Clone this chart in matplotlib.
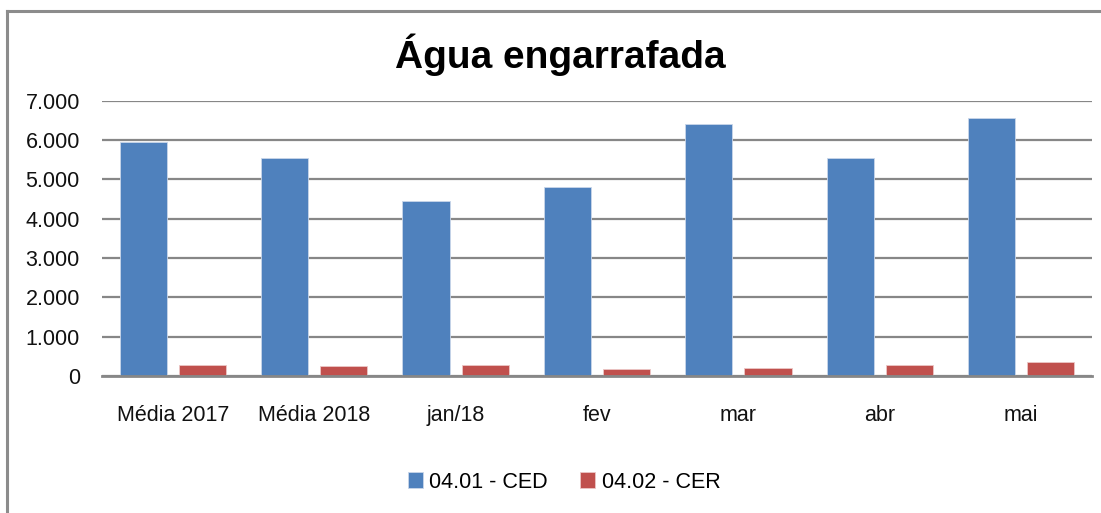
import matplotlib
matplotlib.use("Agg")
import matplotlib.pyplot as plt
from matplotlib.ticker import FuncFormatter, MultipleLocator
from matplotlib.lines import Line2D
import numpy as np

categories = ["Média 2017", "Média 2018", "jan/18", "fev", "mar", "abr", "mai"]
ced = [5950, 5550, 4440, 4810, 6400, 5550, 6570]
cer = [280, 255, 280, 180, 195, 270, 350]
series_names = ["04.01 - CED", "04.02 - CER"]
title = "Água engarrafada"

BLUE = "#4F81BD"
RED = "#C0504D"
GRID = "#878787"

plt.rcParams['font.family'] = ['Liberation Sans', 'DejaVu Sans']

fig = plt.figure(figsize=(11.01, 5.13), dpi=100)
ax = fig.add_axes([102/1101, 1-376/513, 990/1101, (376-100.7)/513])

x = np.arange(len(categories))
w = 0.333
off = 0.209
ax.bar(x - off, ced, width=w, color=BLUE, edgecolor="#c9d6ea", linewidth=0.6, label=series_names[0], zorder=3)
ax.bar(x + off, cer, width=w, color=RED, edgecolor="#ecc7c6", linewidth=0.6, label=series_names[1], zorder=3)

ax.set_xlim(-0.5, len(categories) - 0.5)
ax.set_ylim(0, 7000)
ax.yaxis.set_major_locator(MultipleLocator(1000))
ax.yaxis.set_major_formatter(FuncFormatter(lambda v, p: f"{int(v):,}".replace(",", ".")))
ax.set_xticks(x)
ax.set_xticklabels(categories)
ax.tick_params(axis='both', length=0, labelsize=15.5, colors="#111111")
ax.tick_params(axis='y', pad=16)
ax.tick_params(axis='x', pad=21)
ax.grid(axis='y', color=GRID, linewidth=1.6, zorder=0)
for s in ["top", "right", "left"]:
    ax.spines[s].set_visible(False)
ax.spines["bottom"].set_color(GRID)
ax.spines["bottom"].set_linewidth(2)
ax.spines["bottom"].set_zorder(4)

fig.text(560/1101, 1-55/513, title, ha="center", va="center", fontsize=28, fontweight="bold")

leg = fig.legend(loc="center", bbox_to_anchor=(564/1101, 1-482/513), ncol=2, frameon=False,
                 fontsize=15.5, handlelength=0.7, handleheight=0.7, handletextpad=0.3, columnspacing=1.5)

# chart border (top & left visible)
fig.add_artist(Line2D([7/1101, 7/1101], [0, 1-11/513], transform=fig.transFigure, color="#8c8c8c", linewidth=2.2))
fig.add_artist(Line2D([7/1101, 1], [1-11/513, 1-11/513], transform=fig.transFigure, color="#8c8c8c", linewidth=2.2))

fig.savefig("out.png", dpi=100, facecolor="white")
